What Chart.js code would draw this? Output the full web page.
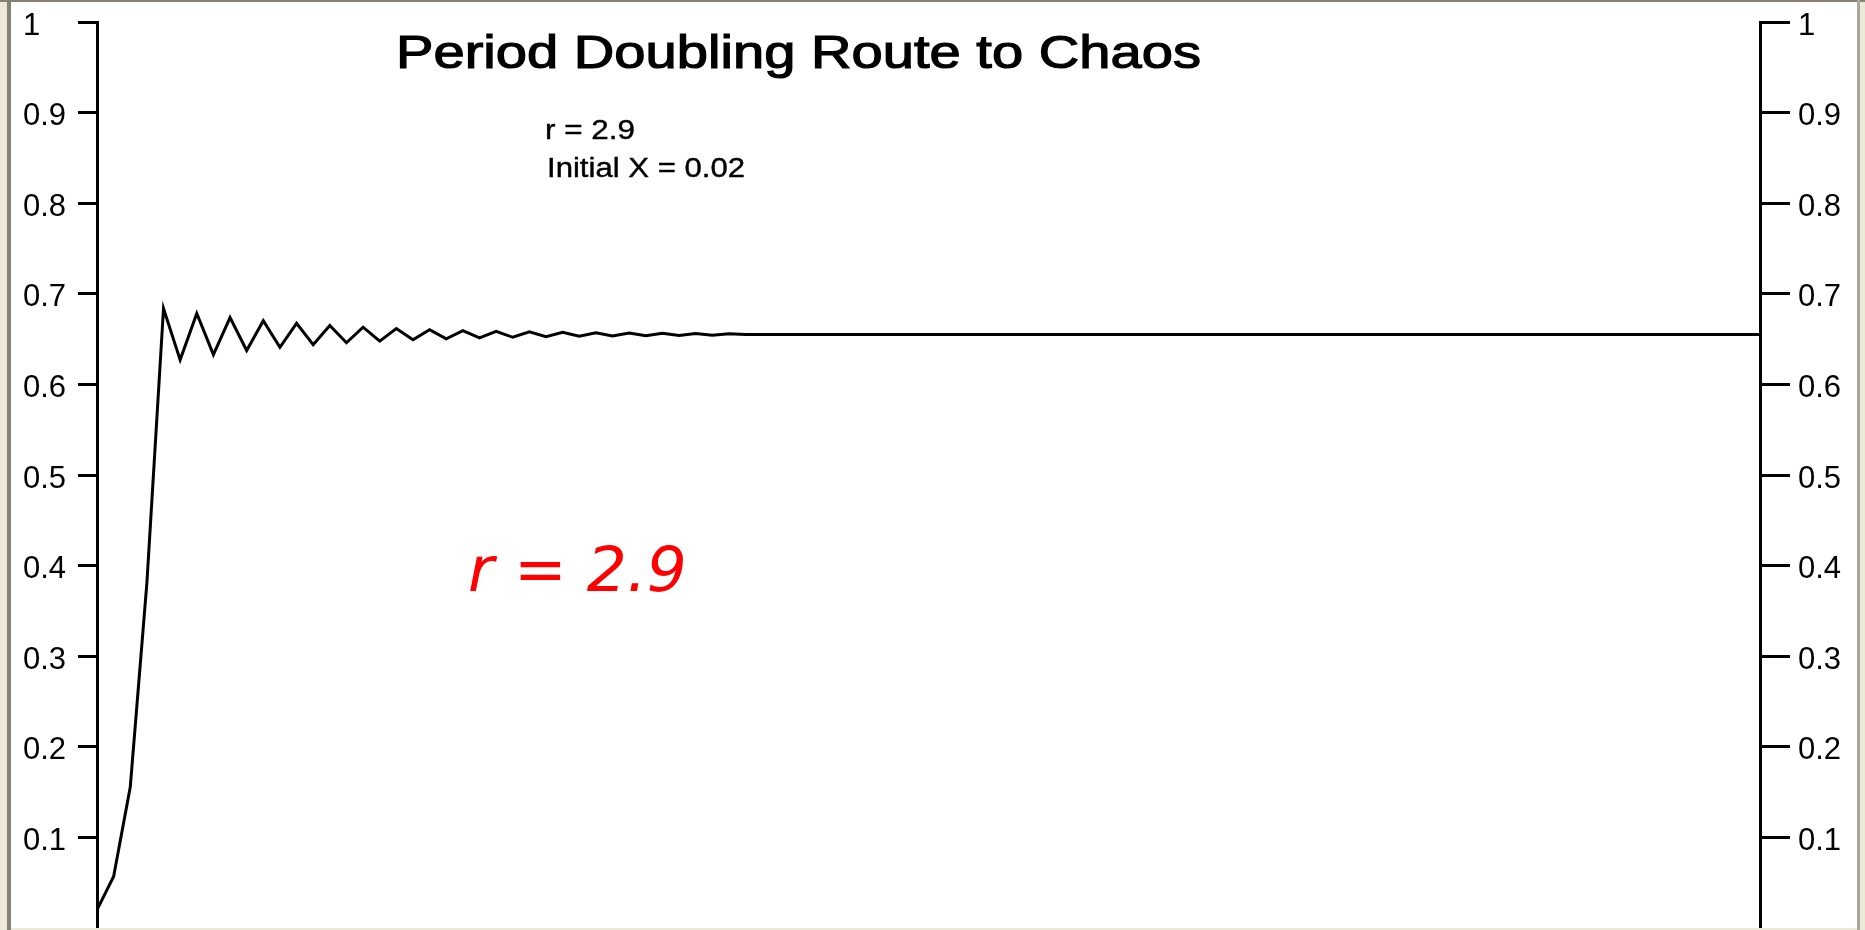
<!DOCTYPE html>
<html>
<head>
<meta charset="utf-8">
<title>Period Doubling Route to Chaos</title>
<script src="https://cdn.jsdelivr.net/npm/chart.js@4/dist/chart.umd.min.js"></script>
<style>
  html, body { margin: 0; padding: 0; background: #ffffff; }
  #wrap { width: 1865px; height: 930px; position: relative; }
</style>
</head>
<body>
<div id="wrap"><canvas id="chart"></canvas></div>
<script>
// iteration values (r = 2.9, x0 = 0.02)
const xValues = [
  0.0200, 0.0568, 0.1555, 0.3808, 0.6838, 0.6271, 0.6782, 0.6329, 0.6738, 0.6374,
  0.6702, 0.6410, 0.6674, 0.6438, 0.6651, 0.6460, 0.6632, 0.6478, 0.6617, 0.6492,
  0.6604, 0.6503, 0.6594, 0.6513, 0.6586, 0.6520, 0.6580, 0.6526, 0.6575, 0.6531,
  0.6570, 0.6535, 0.6567, 0.6538, 0.6564, 0.6541, 0.6562, 0.6543, 0.6560, 0.6552,
  0.6552, 0.6552, 0.6552, 0.6552, 0.6552, 0.6552, 0.6552, 0.6552, 0.6552, 0.6552,
  0.6552, 0.6552, 0.6552, 0.6552, 0.6552, 0.6552, 0.6552, 0.6552, 0.6552, 0.6552,
  0.6552, 0.6552, 0.6552, 0.6552, 0.6552, 0.6552, 0.6552, 0.6552, 0.6552, 0.6552,
  0.6552, 0.6552, 0.6552, 0.6552, 0.6552, 0.6552, 0.6552, 0.6552, 0.6552, 0.6552,
  0.6552, 0.6552, 0.6552, 0.6552, 0.6552, 0.6552, 0.6552, 0.6552, 0.6552, 0.6552,
  0.6552, 0.6552, 0.6552, 0.6552, 0.6552, 0.6552, 0.6552, 0.6552, 0.6552, 0.6552,
  0.6552
];
const iterMax = 100;
const yTicks = [0, 0.1, 0.2, 0.3, 0.4, 0.5, 0.6, 0.7, 0.8, 0.9, 1];
const titleText = 'Period Doubling Route to Chaos';
const noteLines = ['r = 2.9', 'Initial X = 0.02'];
const bigLabel = 'r = 2.9';

const points = xValues.map((v, i) => ({ x: i, y: v }));

// draw a line of text squeezed/stretched to a given width
function fitText(ctx, text, x, y, width, font, color, stroke) {
  ctx.save();
  ctx.font = font;
  ctx.fillStyle = color;
  ctx.strokeStyle = color;
  ctx.textAlign = 'left';
  ctx.textBaseline = 'alphabetic';
  const w = ctx.measureText(text).width;
  ctx.translate(x, y);
  ctx.scale(width / w, 1);
  ctx.fillText(text, 0, 0);
  if (stroke) {
    ctx.lineWidth = stroke;
    ctx.strokeText(text, 0, 0);
  }
  ctx.restore();
}

const frame = {
  id: 'frame',
  beforeDraw(chart) {
    const ctx = chart.ctx;
    ctx.save();
    ctx.fillStyle = '#ffffff';
    ctx.fillRect(0, 0, chart.width, chart.height);
    ctx.restore();
  },
  afterDraw(chart) {
    const ctx = chart.ctx;
    const w = chart.width, h = chart.height;
    ctx.save();
    ctx.fillStyle = '#ece9d8';
    ctx.fillRect(0, 0, 7, h);
    ctx.fillRect(1860, 0, w - 1860, h);
    ctx.fillRect(0, 928, w, h - 928);
    ctx.fillStyle = '#858275';
    ctx.fillRect(7, 0, 4, h);
    ctx.fillRect(0, 0, w, 2);
    ctx.fillStyle = '#a9a69a';
    ctx.fillRect(1857, 0, 3, h);
    ctx.restore();

    fitText(ctx, titleText, 396, 68, 805, '46px "Liberation Sans"', '#000000', 1.2);
    fitText(ctx, noteLines[0], 545, 139, 90, '27px "Liberation Sans"', '#000000', 0.4);
    fitText(ctx, noteLines[1], 547, 177, 198, '27px "Liberation Sans"', '#000000', 0.4);

    ctx.save();
    ctx.font = 'oblique 63px "DejaVu Sans"';
    ctx.fillStyle = '#ff0000';
    ctx.textBaseline = 'alphabetic';
    ctx.fillText(bigLabel, 468, 591);
    ctx.restore();
  }
};

function tickLabel(v) {
  if (v === 0) return '';
  return String(Math.round(v * 10) / 10);
}

function yAxis(position, tickLength, padding, crossAlign, width) {
  return {
    type: 'linear',
    position: position,
    min: 0,
    max: 1,
    afterBuildTicks: s => { s.ticks = yTicks.map(v => ({ value: v })); },
    afterFit: s => { s.width = width; s.paddingTop = 0; s.paddingBottom = 0; },
    grid: {
      drawOnChartArea: false,
      drawTicks: true,
      tickLength: tickLength,
      tickWidth: 3,
      tickColor: ctx => (ctx.tick && ctx.tick.value === 0 ? 'rgba(0,0,0,0)' : '#000000'),
    },
    border: { display: true, color: '#000000', width: 3 },
    ticks: {
      color: '#000000',
      font: { family: '"Liberation Sans"', size: 31 },
      padding: padding,
      crossAlign: crossAlign,
      labelOffset: 4,
      autoSkip: false,
      callback: tickLabel,
    },
  };
}

new Chart(document.getElementById('chart'), {
  type: 'line',
  data: {
    datasets: [{
      data: points,
      borderColor: '#000000',
      borderWidth: 3,
      pointRadius: 0,
      tension: 0,
      fill: false,
    }],
  },
  plugins: [frame],
  options: {
    responsive: true,
    maintainAspectRatio: false,
    animation: false,
    devicePixelRatio: 1,
    layout: { padding: { left: 23, top: 22, right: 8, bottom: 2 } },
    plugins: {
      legend: { display: false },
      tooltip: { enabled: false },
      title: { display: false },
    },
    scales: {
      x: { type: 'linear', min: 0, max: iterMax, display: false },
      y: yAxis('left', 19, 13, 'far', 74),
      y2: yAxis('right', 30, 8, 'near', 97),
    },
  },
});
</script>
</body>
</html>
